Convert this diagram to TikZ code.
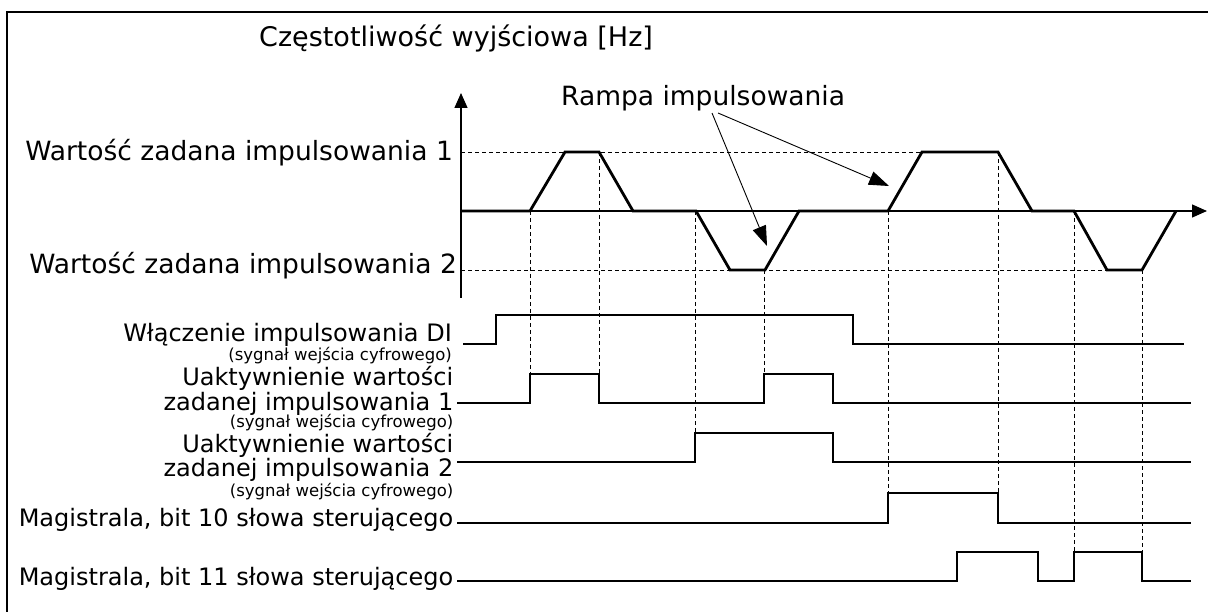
\documentclass[tikz,border=0pt]{standalone}
\usepackage{fontspec}
\setmainfont{DejaVu Sans}
\usetikzlibrary{arrows.meta}
\tikzset{lbl/.style={font=\fontsize{26.5}{30}\selectfont,inner sep=0pt},
  siglbl/.style={font=\fontsize{24}{18.5}\selectfont,inner sep=0pt,align=right,anchor=base east},
  note/.style={font=\fontsize{16.5}{18}\selectfont,inner sep=0pt,anchor=base east},
  sig/.style={line width=2.8pt,line join=miter},
  guide/.style={line width=0.9pt,dash pattern=on 4pt off 3pt},
  axis/.style={line width=1.3pt,-{Triangle[length=15pt,width=13pt]}},
  ramparr/.style={line width=0.9pt,-{Triangle[length=20pt,width=14pt]}}}

\begin{document}
\begin{tikzpicture}[x=1pt,y=-1pt]
\useasboundingbox (0,0) rectangle (1208,612);
\draw[line width=1.5pt] (7,612) -- (7,12) -- (1208,12);
% axes and set points
\draw[axis] (461,298) -- (461,93);
\draw[axis] (461,211) -- (1207,211);
\draw[guide] (461,152) -- (922,152);
\draw[guide] (461,270) -- (1107,270);
\node[lbl,font=\fontsize{27}{30}\selectfont,anchor=base west] (title) at (259,47) {Częstotliwość wyjściowa [Hz]};
\node[lbl,anchor=base east] (ref1) at (453,161) {Wartość zadana impulsowania 1};
\node[lbl,anchor=base east] (ref2) at (457,274) {Wartość zadana impulsowania 2};
% output frequency
\draw[sig] (461,211) -- (530,211) -- (565,152) -- (599,152) -- (633,211) -- (696,211)
  -- (730,270) -- (765,270) -- (799,211) -- (888,211) -- (922,152) -- (998,152)
  -- (1032,211) -- (1074,211) -- (1107,270) -- (1142,270) -- (1176,211);
\node[lbl,anchor=base west] (rampa) at (561,105.5) {Rampa impulsowania};
\coordinate (rampa1) at (712,113);
\coordinate (rampa2) at (718,113);
\coordinate (tip1) at (767,246);
\coordinate (tip2) at (889,186);
\draw[ramparr] (rampa1) -- (tip1);
\draw[ramparr] (rampa2) -- (tip2);
% edges
\foreach \x/\ya/\yb in {530/211/374,599/152/374,695/211/433,764/270/374,
  888/211/493,998/152/493,1074/211/552,1142/270/552}
  \draw[guide] (\x,\ya) -- (\x,\yb);
% inputs
\node[siglbl] (di) at (452,341.5) {Włączenie impulsowania DI};
\node[note] (di2) at (452,360) {(sygnał wejścia cyfrowego)};
\draw[sig] (463,344) -- (496,344) -- (496,315) -- (853,315) -- (853,344) -- (1184,344);
\node[siglbl] (jog1) at (453.5,410) {Uaktywnienie wartości\\zadanej impulsowania 1};
\node[note] (jog1b) at (453.5,427) {(sygnał wejścia cyfrowego)};
\draw[sig] (457,403) -- (530,403) -- (530,374) -- (599,374) -- (599,403) -- (764,403)
  -- (764,374) -- (833,374) -- (833,403) -- (1191,403);
\node[siglbl] (jog2) at (453.5,476.5) {Uaktywnienie wartości\\zadanej impulsowania 2};
\node[note] (jog2b) at (453.5,496) {(sygnał wejścia cyfrowego)};
\draw[sig] (457,462) -- (695,462) -- (695,433) -- (833,433) -- (833,462) -- (1191,462);
\node[siglbl] (bit10) at (453.5,526.5) {Magistrala, bit 10 słowa sterującego};
\draw[sig] (457,523) -- (888,523) -- (888,493) -- (998,493) -- (998,523) -- (1191,523);
\node[siglbl] (bit11) at (453.5,585) {Magistrala, bit 11 słowa sterującego};
\draw[sig] (457,581) -- (957,581) -- (957,552) -- (1038,552) -- (1038,581) -- (1074,581)
  -- (1074,552) -- (1142,552) -- (1142,581) -- (1191,581);
\end{tikzpicture}
\end{document}
